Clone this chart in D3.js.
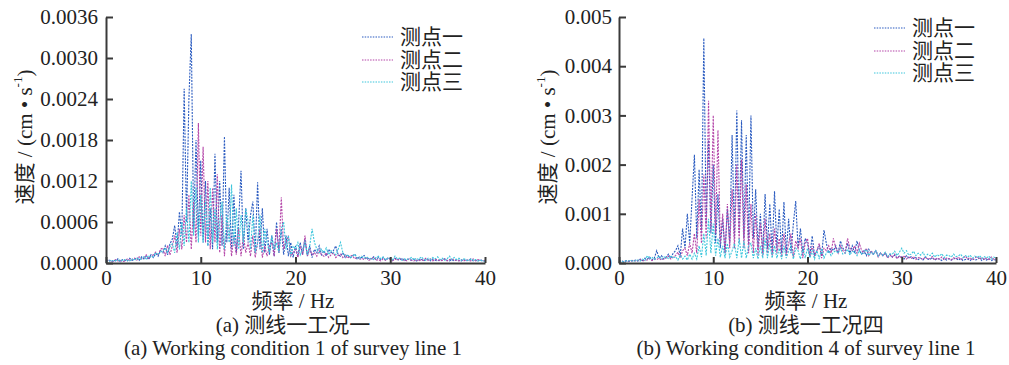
<!DOCTYPE html>
<html><head><meta charset="utf-8">
<script src="https://cdn.jsdelivr.net/npm/d3@7"></script>
<style>
body{margin:0;background:#fff}
text{font-family:"Liberation Serif","Times New Roman","Noto Sans CJK SC",serif;fill:#222}
</style>
</head><body><svg id="c" width="1009" height="365"></svg>
<script>
// frequency grid step (Hz); values below are in units of 1e-4 cm/s
const FREQ_STEP = 0.25;
const seriesNames = ["测点一","测点二","测点三"];
const seriesColors = ["#2a5bc0","#b445a8","#3cc6dc"];
const xTicks = [0,10,20,30,40];
const yTicksA = [0,6,12,18,24,30,36];
const yTickLabelsA = ["0.0000","0.0006","0.0012","0.0018","0.0024","0.0030","0.0036"];
const yTicksB = [0,10,20,30,40,50];
const yTickLabelsB = ["0.000","0.001","0.002","0.003","0.004","0.005"];

// Panel (a) 测线一工况一 — one row of 4 values per Hz
const a1 = [
0.3,0.5,0.2,0.4, 0.3,0.6,0.2,0.5, 0.4,0.3,0.7,0.4, 0.5,0.8,0.4,0.9, 0.6,1.0,0.5,1.2,
0.8,1.4,1.0,1.8,
1.5,2.5,1.2,2.8, 3.5,5.5,2.5,7.5, 4,25.5,6,24, 33.5,5,18,4, 15,3,12,2.5,
8,2,16,3, 12,2.5,18.5,3, 11,2,10,1.5, 6,13.5,2,8, 3,7,9,1.5,
11.8,2,8,1.5, 5,1.2,4,1, 6,1.5,5,1.2, 4,1,3,0.8, 2.5,1,3,1.2, 3.5,1,2.5,0.8,
2,1.5,2.5,1.2, 1.8,1.0,2.0,1.5, 1.8,2.5,1.2,1.0,
1.5,0.8,1.2,0.7, 1.0,1.3,0.6,0.9, 0.8,1.1,0.5,0.7, 0.6,0.9,0.5,0.8, 0.5,0.8,0.4,0.7,
0.6,0.4,0.7,0.5, 0.4,0.7,0.3,0.6, 0.5,0.4,0.6,0.3, 0.4,0.6,0.3,0.5, 0.5,0.3,0.6,0.4,
0.3,0.5,0.4,0.6, 0.4,0.3,0.5,0.3, 0.5,0.4,0.3,0.5, 0.3,0.4,0.6,0.3, 0.4,0.3,0.5,0.3, 0.3];
const a2 = [
0.2,0.4,0.3,0.2, 0.5,0.3,0.4,0.2, 0.3,0.6,0.4,0.5, 0.7,0.4,0.9,0.6, 0.8,1.2,0.7,1.0,
1.2,1.6,1.1,2.0,
2.2,1,2.6,1.2, 2.5,4,1.5,5, 2,7,3,10, 2,9,3,20.5, 4,17,3,12,
2,11,3,13, 1.5,7,1,6, 5,1,4,1.2, 5,1,4,1.5, 3,1,4,0.8,
3,5,0.8,2.5, 1,2.5,3,1, 5,1.5,9.6,2, 3,4,1,1.5, 2,0.8,2.5,1.2, 4,1,2,1.2,
1.5,1.0,1.8,1.2, 1.0,1.5,0.8,1.2, 1.5,0.8,1.1,1.3,
0.8,1.2,0.7,1.0, 1.1,0.6,0.9,0.5, 0.7,0.5,0.9,0.4, 0.6,0.8,0.4,0.5, 0.3,0.6,0.4,0.7,
0.5,0.3,0.6,0.4, 0.7,0.4,0.5,0.3, 0.6,0.4,0.3,0.5, 0.3,0.5,0.4,0.7, 0.4,0.6,0.3,0.5,
0.5,0.3,0.4,0.6, 0.3,0.5,0.6,0.4, 0.4,0.3,0.5,0.3, 0.5,0.4,0.3,0.6, 0.3,0.5,0.4,0.3, 0.4];
const a3 = [
0.3,0.2,0.4,0.3, 0.4,0.3,0.5,0.3, 0.5,0.4,0.3,0.6, 0.4,0.7,0.5,0.6, 0.9,0.6,1.1,0.8,
1.0,1.5,1.2,1.6,
1.8,2.2,1.6,2.4, 2.8,1.5,4.5,2, 6,2.5,8,3, 12,4,11,3, 10,3,9,2.5,
11,3,8,2, 6,9,2,7, 3,11.5,2.5,8, 2,7,3,8, 6,2,7,1.5,
3,7,1.5,5, 3,1.5,4,2, 3,1.5,5,6, 2,4,1,2.5, 2,3,1.2,2, 3,1.2,2.5,5,
3,2,1.5,2, 1.5,2.2,1.2,1.8, 1.5,1.2,2.0,3.0,
1.5,1.0,1.2,0.8, 1.0,1.3,0.8,0.6, 1.0,0.7,0.9,0.6, 0.7,0.5,0.8,1.0, 0.6,0.9,0.5,0.7,
0.8,0.5,1.0,0.6, 0.7,0.4,0.6,0.5, 0.6,0.8,0.4,0.7, 0.5,0.9,0.6,0.4, 0.7,0.5,0.8,0.6,
0.9,0.5,0.7,0.4, 0.6,1.0,0.5,0.8, 0.5,0.7,0.4,0.6, 0.5,0.3,0.6,0.4, 0.5,0.3,0.4,0.3, 0.3];

// Panel (b) 测线一工况四 — one row of 4 values per Hz
const b1 = [
0.3,0.5,0.2,0.4, 0.3,0.5,0.4,0.6, 0.4,0.8,0.5,1.0, 0.8,1.2,0.6,1.0, 2.5,1.0,1.5,0.8,
1.2,1.8,1.0,2.0,
2.5,3.5,1.5,7, 3,10,4,13, 22,5,19,6, 45.7,8,25,6, 20,4,14,3,
9,2,11,4, 26,5,31,6, 29,5,26,4, 30,5,15,3, 10,2,14,3,
12,2,14.6,3, 11,2,12.4,2, 9,2,8,12.6, 3,7,2,5, 4,1.5,5.5,1.5, 2.5,3.5,1.5,6.7,
4,2,3,2.5, 3.5,2,4.5,3, 2.5,4,2,3.5,
2,4.5,2.5,1.8, 2.5,1.5,2.8,2, 1.8,2.5,1.5,2, 1.5,2,1.2,1.8, 1.2,1.6,1.0,1.4,
1.2,0.8,1.5,1.0, 1.3,0.9,1.1,0.7, 1.0,0.6,1.2,0.8, 0.7,1.1,0.6,0.9, 0.8,0.5,1.0,0.6,
0.9,0.6,0.8,1.0, 0.6,0.9,0.5,0.7, 0.8,0.5,0.9,0.6, 0.7,1.0,0.5,0.8, 0.6,0.9,0.5,0.7, 0.6];
const b2 = [
0.2,0.4,0.3,0.5, 0.4,0.3,0.6,0.4, 0.5,0.7,0.4,0.6, 0.6,0.9,0.5,0.8, 0.7,1.0,0.6,0.9,
1.0,1.4,0.8,1.2,
1.5,2.2,1,2.5, 3,1.5,4,2, 6,2,13,4, 18,5,33,7, 30,6,27,4,
10,2,12,3, 15,3,20,4, 21,3,16,2, 12,2,10,1.5, 8,1.5,9,2,
6,1.5,7,2, 5,1.2,6,1.5, 4,6,1.2,4.5, 3,5,1,4, 5,1.2,3.5,1.5, 2.5,4,1,3,
2.5,3.5,2,5, 3,2,3.5,2.5, 2,5,3,2.5,
3.5,2,4,2.5, 2,3,1.5,2.5, 1.8,2.5,1.2,2, 1.5,2,1.0,1.6, 1.2,1.8,0.9,1.4,
1.0,1.5,0.8,1.2, 0.9,1.3,0.7,1.1, 1.0,0.7,1.2,0.8, 0.9,1.3,0.6,1.0, 0.8,1.2,0.7,1.0,
0.9,0.6,1.1,0.8, 1.2,0.7,1.0,1.4, 0.8,1.1,0.6,1.0, 1.3,0.8,1.1,0.7, 1.0,0.7,1.2,0.8, 0.9];
const b3 = [
0.3,0.4,0.2,0.5, 0.4,0.6,0.3,0.5, 0.6,0.4,0.8,0.5, 1.5,0.8,1.2,0.7, 1.0,1.4,0.8,1.2,
1.2,0.9,1.5,1.0,
1.3,0.6,1.6,0.8, 1.4,0.6,1.8,0.8, 2.0,0.8,3.5,1.2, 6,1.5,9,2, 8,1.5,5,1.2,
3.5,1,4,1.2, 2.5,4,1,5, 1,4.5,1,3.5, 4,1,3,0.8, 3.5,1,5,1,
4,1,3.5,1, 3,0.8,3.5,1, 2.5,3.5,0.8,3, 2.5,0.8,3,1, 3,1,2.5,0.8, 2.5,0.8,3,1,
2,2.5,1.5,2.2, 2.5,2,3,1.8, 2,2.8,1.6,2.4,
2.2,1.5,2.6,1.8, 2,2.8,1.5,2.2, 1.8,2.5,1.4,2, 1.6,2.2,1.3,1.8, 1.8,2.4,1.5,2.2,
3.0,2.0,2.5,1.6, 1.8,2.4,1.5,2.0, 1.6,2.2,1.2,1.8, 1.5,2.0,1.2,1.7, 1.4,1.9,1.1,1.6,
1.5,1.2,1.8,1.3, 1.4,1.8,1.1,1.5, 1.2,1.6,1.0,1.4, 1.1,1.5,0.9,1.3, 1.0,1.4,0.8,1.2, 1.0];

const panels = [
  {series:[a1,a2,a3], yTicks:yTicksA, yLabels:yTickLabelsA, yMax:36,
   box:{l:106,r:485,t:17,b:263}, yTitleX:25, xTitleX:293,
   legend:{x:362,y:[37,60,82]},
   cap1:"(a) 测线一工况一", cap2:"(a) Working condition 1 of survey line 1", yPad:8},
  {series:[b1,b2,b3], yTicks:yTicksB, yLabels:yTickLabelsB, yMax:50,
   box:{l:619,r:996,t:17,b:263}, yTitleX:548, xTitleX:806,
   legend:{x:874,y:[28,51,73]},
   cap1:"(b) 测线一工况四", cap2:"(b) Working condition 4 of survey line 1", yPad:7}
];

const svg = d3.select("#c");
const FS = 21;
const axisColor = "#3a3a3a";

panels.forEach(p => {
  const x = d3.scaleLinear().domain([0,40]).range([p.box.l,p.box.r]);
  const y = d3.scaleLinear().domain([0,p.yMax]).range([p.box.b,p.box.t]);
  const g = svg.append("g");

  const line = d3.line().x((d,i)=>x(i*FREQ_STEP)).y(d=>y(d));
  p.series.forEach((s,k)=>{
    g.append("path").datum(s).attr("d",line)
      .attr("fill","none").attr("stroke",seriesColors[k])
      .attr("stroke-width",1.1).attr("stroke-dasharray","2,1.2");
  });

  const yAxis = d3.axisLeft(y).tickValues(p.yTicks)
    .tickFormat((d,i)=>p.yLabels[i]).tickSizeInner(-7).tickSizeOuter(0).tickPadding(p.yPad);
  const ya = g.append("g").attr("transform",`translate(${p.box.l},0)`).call(yAxis);
  const xAxis = d3.axisBottom(x).tickValues(xTicks).tickSizeInner(-6).tickSizeOuter(0).tickPadding(7);
  const xa = g.append("g").attr("transform",`translate(0,${p.box.b})`).call(xAxis);
  [ya,xa].forEach(a=>{
    a.attr("font-family",null);
    a.select(".domain").attr("stroke",axisColor).attr("stroke-width",2);
    a.selectAll(".tick line").attr("stroke",axisColor).attr("stroke-width",2);
    a.selectAll(".tick text").attr("font-size",FS).attr("fill","#222");
  });

  // y title
  const yt = g.append("text").attr("transform",`translate(${p.yTitleX},137) rotate(-90)`)
    .attr("text-anchor","middle").attr("dominant-baseline","central").attr("font-size",FS);
  yt.append("tspan").text("速度 / (cm • s");
  yt.append("tspan").attr("dy",-8).attr("font-size",13).text("-1");
  yt.append("tspan").attr("dy",8).text(")");

  // x title and captions
  g.append("text").attr("x",p.xTitleX).attr("y",308).attr("text-anchor","middle")
    .attr("font-size",FS).text("频率 / Hz");
  g.append("text").attr("x",p.xTitleX).attr("y",332).attr("text-anchor","middle")
    .attr("font-size",FS).text(p.cap1);
  g.append("text").attr("x",p.xTitleX).attr("y",355).attr("text-anchor","middle")
    .attr("font-size",FS).text(p.cap2);

  // legend
  seriesNames.forEach((n,k)=>{
    const ly = p.legend.y[k];
    g.append("line").attr("x1",p.legend.x).attr("x2",p.legend.x+31)
      .attr("y1",ly).attr("y2",ly).attr("stroke",seriesColors[k])
      .attr("stroke-width",1.2).attr("stroke-dasharray","1.5,1.2");
    g.append("text").attr("x",p.legend.x+38).attr("y",ly).attr("dominant-baseline","central")
      .attr("font-size",FS).attr("fill","#333").text(n);
  });
});
</script></body></html>
